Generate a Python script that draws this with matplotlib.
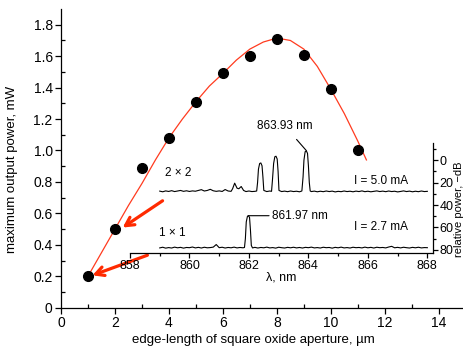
import matplotlib.pyplot as plt
import numpy as np

plt.rcParams['font.family'] = ['Liberation Sans', 'DejaVu Sans']

aperture = [1, 2, 3, 4, 5, 6, 7, 8, 9, 10, 11]
power = [0.20, 0.50, 0.89, 1.08, 1.31, 1.49, 1.60, 1.71, 1.61, 1.39, 1.00]

fit_x = [1.0, 1.5, 2.0, 2.5, 3.0, 3.5, 4.0, 4.5, 5.0, 5.5, 6.0, 6.5, 7.0,
         7.5, 8.0, 8.5, 9.0, 9.5, 10.0, 10.5, 11.0, 11.32]
fit_y = [0.20, 0.35, 0.50, 0.65, 0.79, 0.94, 1.08, 1.20, 1.31, 1.41, 1.49,
         1.575, 1.645, 1.69, 1.715, 1.70, 1.645, 1.535, 1.39, 1.235, 1.06, 0.94]

# inset spectra, wavelength in nm, relative power in -dB
wl_2x2 = [859.0, 859.1, 859.2, 859.3, 859.4, 859.5, 859.6, 859.7, 859.8, 859.9,
          860.0, 860.1, 860.2, 860.3, 860.4, 860.5, 860.6, 860.7, 860.8, 860.9,
          861.0, 861.1, 861.2, 861.3, 861.4, 861.45, 861.52, 861.6, 861.66, 861.74,
          861.82, 861.9, 862.0, 862.1, 862.2, 862.26, 862.29, 862.32, 862.36, 862.40,
          862.44, 862.47, 862.5, 862.6, 862.7, 862.76, 862.79, 862.83, 862.87, 862.91,
          862.95, 862.98, 863.01, 863.1, 863.2, 863.3, 863.4, 863.5, 863.6, 863.7,
          863.78, 863.82, 863.85, 863.89, 863.93, 863.97, 864.0, 864.03, 864.06, 864.1,
          864.2, 864.3, 864.4, 864.5, 864.6, 864.7, 864.8, 864.9, 865.0, 865.1,
          865.2, 865.3, 865.4, 865.5, 865.6, 865.7, 865.8, 865.9, 866.0, 866.1,
          866.2, 866.3, 866.4, 866.5, 866.6, 866.7, 866.8, 866.9, 867.0, 867.1,
          867.2, 867.3, 867.4, 867.5, 867.6, 867.7, 867.8, 867.9, 868.0]
db_2x2 = [27.6, 28.2, 27.4, 27.9, 27.2, 28.0, 27.5, 27.0, 27.8, 27.3,
          27.9, 27.4, 27.7, 27.0, 26.3, 27.5, 27.0, 26.0, 27.3, 27.8,
          27.4, 27.9, 26.2, 27.5, 27.8, 25.5, 20.5, 25.0, 25.5, 23.5,
          27.0, 28.0, 27.5, 28.0, 27.8, 27.5, 20.0, 8.0, 3.0, 2.5,
          5.0, 15.0, 27.0, 28.0, 27.5, 27.8, 18.0, 3.0, -3.0, -3.5,
          -1.0, 10.0, 27.0, 28.0, 27.6, 28.1, 27.5, 28.0, 27.7, 28.2,
          27.5, 15.0, 0.0, -7.5, -8.3, -6.0, 5.0, 20.0, 27.5, 28.0,
          27.6, 28.2, 27.7, 28.1, 27.5, 28.0, 27.6, 28.3, 27.8, 28.1,
          27.5, 28.0, 27.7, 28.2, 27.6, 28.0, 27.4, 28.1, 27.7, 28.2,
          27.8, 27.4, 28.0, 27.6, 28.1, 27.5, 28.0, 27.7, 28.3, 27.9,
          27.4, 28.0, 27.6, 28.2, 27.7, 28.1, 27.5, 28.0, 27.8]

wl_1x1 = [859.0, 859.1, 859.2, 859.3, 859.4, 859.5, 859.6, 859.7, 859.8, 859.9,
          860.0, 860.1, 860.2, 860.3, 860.4, 860.5, 860.6, 860.7, 860.8, 860.9,
          861.0, 861.1, 861.2, 861.3, 861.4, 861.5, 861.6, 861.7, 861.8, 861.85,
          861.88, 861.91, 861.95, 861.98, 862.02, 862.05, 862.08, 862.12, 862.2, 862.3,
          862.4, 862.5, 862.6, 862.7, 862.8, 862.9, 863.0, 863.1, 863.2, 863.3,
          863.4, 863.5, 863.6, 863.7, 863.8, 863.9, 864.0, 864.1, 864.2, 864.3,
          864.4, 864.5, 864.6, 864.7, 864.8, 864.9, 865.0, 865.1, 865.2, 865.3,
          865.4, 865.5, 865.6, 865.7, 865.8, 865.9, 866.0, 866.1, 866.2, 866.3,
          866.4, 866.5, 866.6, 866.7, 866.8, 866.9, 867.0, 867.1, 867.2, 867.3,
          867.4, 867.5, 867.6, 867.7, 867.8, 867.9, 868.0]
db_1x1 = [78.2, 77.6, 78.4, 77.9, 78.3, 77.5, 78.1, 77.7, 78.4, 77.8,
          78.0, 77.4, 78.2, 77.7, 78.3, 77.6, 78.1, 77.9, 77.5, 75.2,
          78.0, 77.6, 78.3, 77.8, 78.1, 77.5, 78.2, 77.8, 78.1, 77.8,
          70.0, 55.0, 50.0, 49.5, 51.0, 62.0, 76.0, 78.2, 77.7, 78.3,
          77.8, 78.1, 77.5, 78.2, 77.9, 78.4, 77.6, 78.0, 78.3, 77.7,
          78.1, 77.6, 78.2, 77.8, 78.3, 77.7, 78.0, 77.5, 78.2, 77.9,
          78.3, 77.6, 78.0, 77.8, 78.4, 77.7, 78.1, 77.5, 78.2, 77.9,
          78.3, 77.6, 78.0, 77.8, 78.2, 77.5, 78.1, 77.7, 78.3, 77.6,
          78.0, 77.8, 78.2, 77.4, 76.8, 78.1, 77.7, 78.2, 77.6, 78.0,
          78.3, 77.7, 78.1, 77.6, 78.2, 77.9, 78.0]

red = '#ff3b1f'

fig = plt.figure(figsize=(4.64, 3.53), dpi=100)
ax = fig.add_axes([61 / 464, 1 - 307.7 / 353, 402 / 464, 298.7 / 353])

ax.plot(fit_x, fit_y, color=red, lw=0.9, zorder=2)
ax.plot(aperture, power, 'o', color='black', ms=7, zorder=3)

ax.set_xlim(0, 14.9)
ax.set_ylim(0, 1.9)
ax.set_xticks(np.arange(0, 15, 2))
ax.set_xticks(np.arange(1, 14, 2), minor=True)
ax.set_yticks(np.arange(0, 1.81, 0.2))
ax.set_yticklabels(['0', '0.2', '0.4', '0.6', '0.8', '1.0', '1.2', '1.4', '1.6', '1.8'])
ax.set_yticks(np.arange(0.1, 1.9, 0.2), minor=True)
ax.tick_params(which='major', direction='out', length=4, width=0.9, labelsize=10, pad=2)
ax.tick_params(which='minor', direction='in', length=3, width=0.9)
for s in ['top', 'right']:
    ax.spines[s].set_visible(False)
for s in ['left', 'bottom']:
    ax.spines[s].set_linewidth(0.9)

fig.text(253 / 464, 1 - 340 / 353, 'edge-length of square oxide aperture, µm',
         ha='center', va='center', fontsize=9.5)
fig.text(12 / 464, 1 - 169 / 353, 'maximum output power, mW',
         ha='center', va='center', rotation=90, fontsize=9.5)

# red arrows pointing at the two measured devices
arrow = dict(arrowstyle='->,head_length=0.6,head_width=0.32', lw=2.3, color='#ff2a00')
ax.annotate('', xy=(2.2, 0.5), xytext=(3.85, 0.69), arrowprops=arrow, zorder=5)
ax.annotate('', xy=(1.07, 0.2), xytext=(3.3, 0.34), arrowprops=arrow, zorder=5)

# inset with spectra
ax_in = fig.add_axes([130 / 464, 1 - 253.3 / 353, 303.3 / 464, 110 / 353])
ax_in.patch.set_alpha(0)
ax_in.plot(wl_2x2, db_2x2, color='black', lw=0.8)
ax_in.plot(wl_1x1, db_1x1, color='black', lw=0.8)
ax_in.set_xlim(858, 868.2)
ax_in.set_ylim(83, -15)
ax_in.set_xticks(np.arange(858, 869, 2))
ax_in.set_xticks(np.arange(859, 868, 2), minor=True)
ax_in.set_yticks([0, 20, 40, 60, 80])
ax_in.set_yticks([-10, 10, 30, 50, 70], minor=True)
ax_in.yaxis.tick_right()
ax_in.spines['left'].set_visible(False)
ax_in.spines['top'].set_visible(False)
ax_in.spines['right'].set_linewidth(0.9)
ax_in.spines['bottom'].set_linewidth(0.9)
ax_in.tick_params(which='major', direction='out', length=3.5, width=0.9, labelsize=9, pad=1)
ax_in.tick_params(which='minor', direction='out', length=2.5, width=0.9)
ax_in.set_xlabel('λ, nm', fontsize=9, labelpad=0)

ax_in.text(859.62, 11.6, '2 × 2', fontsize=8.5, ha='center', va='center')
ax_in.text(859.42, 65, '1 × 1', fontsize=8.5, ha='center', va='center')
ax_in.text(866.43, 18.7, 'I = 5.0 mA', fontsize=8.5, ha='center', va='center')
ax_in.text(866.43, 59.8, 'I = 2.7 mA', fontsize=8.5, ha='center', va='center')
ax_in.annotate('863.93 nm', xy=(863.93, -8.5), xytext=(863.22, -30),
               fontsize=8.5, ha='center', va='center', annotation_clip=False,
               arrowprops=dict(arrowstyle='-', lw=0.8, color='black',
                               shrinkA=4, shrinkB=0))
ax_in.annotate('861.97 nm', xy=(861.98, 49.5), xytext=(862.77, 49.5),
               fontsize=8.5, ha='left', va='center',
               arrowprops=dict(arrowstyle='-', lw=0.8, color='black',
                               shrinkA=0, shrinkB=0))

fig.text(459 / 464, 1 - 209 / 353, 'relative power, −dB',
         ha='center', va='center', rotation=90, fontsize=8)

fig.savefig('out.png', dpi=100)
